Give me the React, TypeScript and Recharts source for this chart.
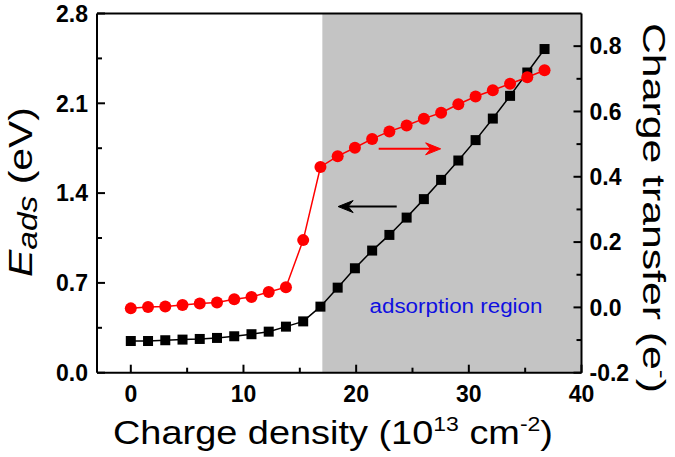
import { LineChart, Line, XAxis, YAxis, ReferenceArea, ReferenceLine } from "recharts";

// charge density (10^13 cm^-2)
const chargeDensity = [
  0, 1.53, 3.06, 4.59, 6.12, 7.65, 9.18, 10.71, 12.24, 13.77, 15.3, 16.83, 18.36,
  19.89, 21.42, 22.95, 24.48, 26.01, 27.54, 29.07, 30.6, 32.13, 33.66, 35.19, 36.72,
];
// E_ads (eV), left axis, black squares
const adsorptionEnergy = [
  0.247, 0.247, 0.253, 0.258, 0.263, 0.271, 0.284, 0.3, 0.32, 0.359, 0.4, 0.515, 0.663,
  0.814, 0.952, 1.074, 1.209, 1.353, 1.503, 1.654, 1.813, 1.981, 2.158, 2.34, 2.523,
];
// charge transfer (e-), right axis, red circles
const chargeTransfer = [
  -0.003, 0.001, 0.003, 0.007, 0.012, 0.015, 0.025, 0.032, 0.047, 0.062, 0.206, 0.43, 0.463,
  0.489, 0.516, 0.539, 0.557, 0.578, 0.596, 0.622, 0.646, 0.665, 0.685, 0.705, 0.726,
];

const xTicks = [0, 5, 10, 15, 20, 25, 30, 35, 40];
const xMajor = [0, 10, 20, 30, 40];
const leftTicks = [0, 0.35, 0.7, 1.05, 1.4, 1.75, 2.1, 2.45, 2.8];
const leftMajor = [0, 0.7, 1.4, 2.1, 2.8];
const rightTicks = [-0.2, -0.1, 0, 0.1, 0.2, 0.3, 0.4, 0.5, 0.6, 0.7, 0.8];
const rightMajor = [-0.2, 0, 0.2, 0.4, 0.6, 0.8];

const regionStart = 17;
const regionEnd = 40;

const data = chargeDensity.map((x, i) => ({
  x,
  eads: adsorptionEnergy[i],
  charge: chargeTransfer[i],
}));

const FONT = "'Liberation Sans', Arial, sans-serif";

const BottomTick = (props: any) => {
  const { x, y, payload } = props;
  const major = xMajor.includes(payload.value);
  return (
    <g>
      <line x1={x} x2={x} y1={y} y2={y - (major ? 8 : 5)} stroke="#000" strokeWidth={2} />
      {major && (
        <text x={x} y={y + 29} textAnchor="middle" fontFamily={FONT} fontWeight="bold" fontSize={23} fill="#000">
          {payload.value}
        </text>
      )}
    </g>
  );
};

const LeftTick = (props: any) => {
  const { x, y, payload } = props;
  const major = leftMajor.includes(payload.value);
  return (
    <g>
      <line x1={x} x2={x + (major ? 8 : 5)} y1={y} y2={y} stroke="#000" strokeWidth={2} />
      {major && (
        <text x={x - 9} y={y} dy="0.36em" textAnchor="end" fontFamily={FONT} fontWeight="bold" fontSize={23} fill="#000">
          {payload.value.toFixed(1)}
        </text>
      )}
    </g>
  );
};

const RightTick = (props: any) => {
  const { x, y, payload } = props;
  const major = rightMajor.includes(payload.value);
  return (
    <g>
      <line x1={x} x2={x - (major ? 8 : 5)} y1={y} y2={y} stroke="#000" strokeWidth={2} />
      {major && (
        <text x={x + 8} y={y} dy="0.36em" textAnchor="start" fontFamily={FONT} fontWeight="bold" fontSize={23} fill="#000">
          {payload.value.toFixed(1)}
        </text>
      )}
    </g>
  );
};

const SquareDot = (props: any) => {
  const { cx, cy, index } = props;
  return <rect key={`sq-${index}`} x={cx - 5} y={cy - 5} width={10} height={10} fill="#000" />;
};

const arrow = (color: string) => (props: any) => {
  const { x1, y1, x2, y2 } = props;
  const dir = Math.sign(x2 - x1);
  return (
    <g>
      <line x1={x1} y1={y1} x2={x2 - dir * 8} y2={y2} stroke={color} strokeWidth={2} />
      <path
        d={`M${x2},${y2} L${x2 - dir * 15},${y2 - 6} L${x2 - dir * 10},${y2} L${x2 - dir * 15},${y2 + 6} Z`}
        fill={color}
        stroke={color}
        strokeWidth={1}
      />
    </g>
  );
};

const xTitle = () => (
  <text x={333} y={444} textAnchor="middle" fontFamily={FONT} fontSize={33} fill="#000" textLength={440} lengthAdjust="spacingAndGlyphs">
    Charge density (10
    <tspan fontSize={20} dy={-13}>13</tspan>
    <tspan dy={13}> cm</tspan>
    <tspan fontSize={20} dy={-13}>-2</tspan>
    <tspan dy={13}>)</tspan>
  </text>
);

const leftTitle = () => (
  <text transform="translate(32,192) rotate(-90)" textAnchor="middle" fontFamily={FONT} fontSize={33} fill="#000" textLength={170} lengthAdjust="spacingAndGlyphs">
    <tspan fontStyle="italic">E</tspan>
    <tspan fontStyle="italic" fontSize={27} dy={5}>ads</tspan>
    <tspan dy={-5}> (eV)</tspan>
  </text>
);

const rightTitle = () => (
  <text transform="translate(643,208) rotate(90)" textAnchor="middle" fontFamily={FONT} fontSize={32} fill="#000" textLength={370} lengthAdjust="spacingAndGlyphs">
    Charge transfer (e
    <tspan fontSize={20} dy={-12}>-</tspan>
    <tspan dy={12}>)</tspan>
  </text>
);

const regionLabel = () => (
  <text x={456} y={313} textAnchor="middle" fontFamily={FONT} fontSize={20} fill="#1010e0" textLength={173} lengthAdjust="spacingAndGlyphs">
    adsorption region
  </text>
);

export default function App() {
  return (
    <div style={{ position: "absolute", left: 0, top: 0, background: "#fff" }}>
      <LineChart
        width={675}
        height={457}
        data={data}
        margin={{ top: 13.5, right: 33.5, bottom: 34.3, left: 37 }}
      >
        <XAxis
          dataKey="x"
          type="number"
          domain={[-3, 40]}
          ticks={xTicks}
          interval={0}
          allowDataOverflow
          height={50}
          tickSize={0}
          tickMargin={0}
          tickLine={false}
          tick={<BottomTick />}
          axisLine={{ stroke: "#000", strokeWidth: 2 }}
          label={{ content: xTitle }}
        />
        <YAxis
          yAxisId="left"
          domain={[0, 2.8]}
          ticks={leftTicks}
          interval={0}
          allowDataOverflow
          width={60}
          tickSize={0}
          tickMargin={0}
          tickLine={false}
          tick={<LeftTick />}
          axisLine={{ stroke: "#000", strokeWidth: 2 }}
          label={{ content: leftTitle }}
        />
        <YAxis
          yAxisId="right"
          orientation="right"
          domain={[-0.2, 0.9]}
          ticks={rightTicks}
          interval={0}
          allowDataOverflow
          width={60}
          tickSize={0}
          tickMargin={0}
          tickLine={false}
          tick={<RightTick />}
          axisLine={{ stroke: "#000", strokeWidth: 2 }}
          label={{ content: rightTitle }}
        />
        <ReferenceArea
          yAxisId="left"
          x1={regionStart}
          x2={regionEnd}
          y1={0}
          y2={2.8}
          fill="#c4c4c4"
          fillOpacity={1}
          stroke="none"
          label={{ content: regionLabel }}
        />
        <ReferenceLine yAxisId="left" y={2.8} stroke="#000" strokeWidth={2} />
        <ReferenceLine
          yAxisId="left"
          segment={[{ x: 22.0, y: 1.745 }, { x: 27.5, y: 1.745 }]}
          stroke="#f00"
          shape={arrow("#f00")}
        />
        <ReferenceLine
          yAxisId="left"
          segment={[{ x: 23.6, y: 1.295 }, { x: 18.4, y: 1.295 }]}
          stroke="#000"
          shape={arrow("#000")}
        />
        <Line
          yAxisId="left"
          dataKey="eads"
          type="linear"
          stroke="#000"
          strokeWidth={1.5}
          dot={SquareDot}
          activeDot={false}
          isAnimationActive={false}
        />
        <Line
          yAxisId="right"
          dataKey="charge"
          type="linear"
          stroke="#f00"
          strokeWidth={1.5}
          dot={{ r: 6, fill: "#f00", stroke: "none" }}
          activeDot={false}
          isAnimationActive={false}
        />
      </LineChart>
    </div>
  );
}
